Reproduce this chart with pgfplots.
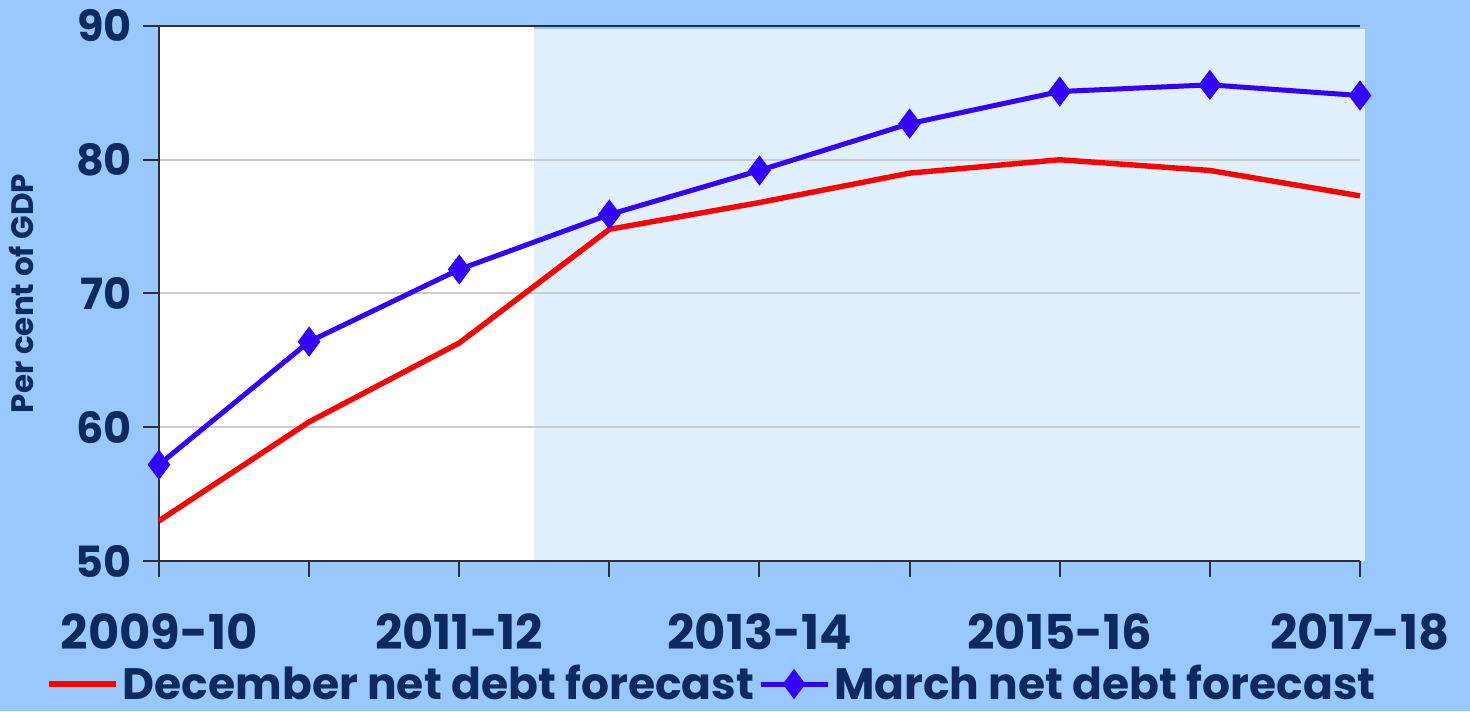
\documentclass[border=0pt]{standalone}
\usepackage{pgfplots}
\pgfplotsset{compat=1.18}
\usepackage{fontspec}
\setmainfont{Poppins}
\definecolor{bgblue}{HTML}{99C8FF}
\definecolor{shadeblue}{HTML}{E0F0FF}
\definecolor{navy}{HTML}{0B2A5E}
\definecolor{myred}{HTML}{FF0000}
\definecolor{myblue}{HTML}{3300FF}
\definecolor{axdark}{HTML}{2A2F38}
\begin{document}
\begin{tikzpicture}
\fill[bgblue] (-79.5pt,-75pt) rectangle (655.5pt,280.5pt);
\fill[white] (0pt,0pt) rectangle (187.66pt,267.5pt);
\fill[shadeblue] (187.66pt,0pt) rectangle (603pt,266pt);
\begin{axis}[
  scale only axis, width=600.5pt, height=267.5pt,
  at={(0pt,0pt)}, anchor=south west,
  xmin=0, xmax=8, ymin=50, ymax=90,
  axis lines*=left,
  axis line style={-, draw=axdark, line width=1pt},
  every outer x axis line/.append style={-},
  every outer y axis line/.append style={-},
  xtick={0,1,2,3,4,5,6,7,8},
  xticklabels={2009-10,,2011-12,,2013-14,,2015-16,,2017-18},
  ytick={50,60,70,80,90},
  xtick pos=left, ytick pos=left,
  tick align=outside, major tick length=8pt,
  tick style={draw=axdark, line width=1pt},
  ymajorgrids, grid style={draw=black!20, line width=1pt},
  /pgf/number format/assume math mode=true,
  yticklabel style={font=\fontsize{21.5}{22}\selectfont\bfseries, text=navy, xshift=-2pt},
  xticklabel style={font=\fontsize{24}{26}\selectfont\bfseries, text=navy, yshift=-15pt},
  ylabel={Per cent of GDP},
  every axis y label/.style={at={(axis description cs:-0.1141,0.5)}, rotate=90, anchor=center, font=\fontsize{15.5}{16}\selectfont\bfseries, text=navy},
  clip=false,
  legend columns=2,
  legend style={at={(axis description cs:-0.0991,-0.2300)}, anchor=west, draw=none, fill=none,
    font=\fontsize{22}{23}\selectfont\bfseries, text=navy,
    /tikz/every even column/.append style={column sep=0pt}},
  legend image code/.code={\draw[mark repeat=2,mark phase=2,#1] plot coordinates {(0pt,0pt) (16.75pt,0pt) (33.5pt,0pt)};},
]
\addplot[myred, line width=2.7pt, no marks] coordinates {
(0,53.0) (1,60.4) (2,66.3) (3,74.8) (4,76.8) (5,79.0) (6,80.0) (7,79.2) (8,77.3)};
\addlegendentry{December net debt forecast}
\addplot[myblue, line width=2.5pt, mark=diamond*, mark size=5.5pt, mark options={solid, fill=myblue}] coordinates {
(0,57.2) (1,66.4) (2,71.8) (3,75.9) (4,79.2) (5,82.7) (6,85.1) (7,85.6) (8,84.8)};
\addlegendentry{March net debt forecast}
\draw[axdark, line width=1pt] (rel axis cs:0,1) -- (rel axis cs:1,1);
\end{axis}
\end{tikzpicture}
\end{document}
